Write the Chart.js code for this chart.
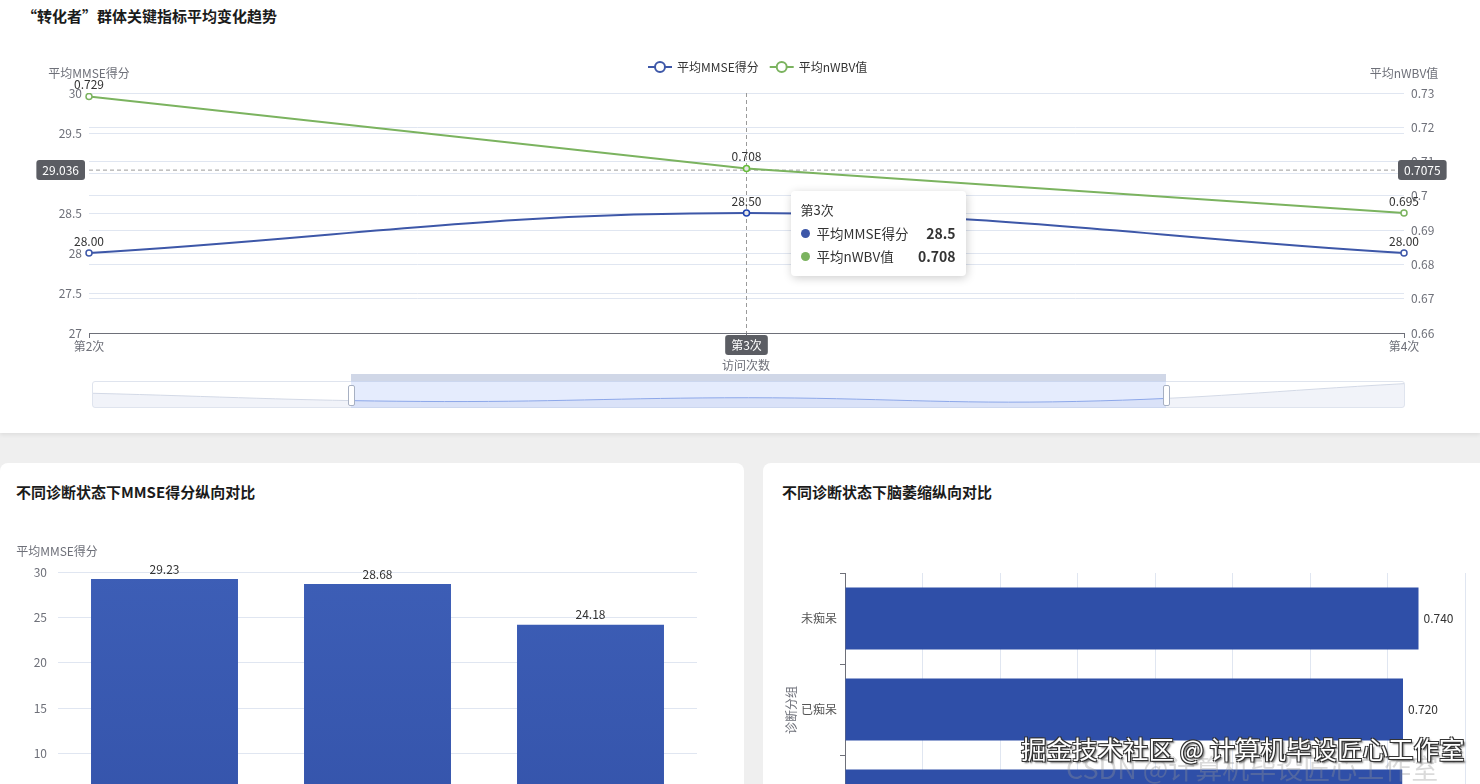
<!DOCTYPE html>
<html lang="zh-CN">
<head>
<meta charset="utf-8">
<title>转化者群体关键指标</title>
<script src="https://cdn.jsdelivr.net/npm/chart.js@4.4.1/dist/chart.umd.min.js"></script>
<style>
    html, body { margin: 0; padding: 0; }
    body {
        width: 1480px; height: 784px; overflow: hidden; position: relative;
        background: #efefef;
        font-family: "Microsoft YaHei", "Noto Sans CJK SC", "Noto Sans", sans-serif;
    }
    .card { position: absolute; background: #fff; }
    .card h3 {
        position: absolute; margin: 0; font-size: 15px; line-height: 20px;
        font-weight: bold; color: #1b1b1b; white-space: nowrap;
    }
    canvas { position: absolute; }
    #topCard { left: 0; top: 0; width: 1480px; height: 433px; box-shadow: 0 2px 4px rgba(0,0,0,0.07); }
    #leftCard { left: 0; top: 463px; width: 744px; height: 420px; border-radius: 8px 8px 0 0; }
    #rightCard { left: 763px; top: 463px; width: 740px; height: 420px; border-radius: 8px 8px 0 0; }

    .zoom-frame { position: absolute; left: 92px; top: 381px; width: 1313px; height: 27px;
        box-sizing: border-box; border: 1px solid #dfe4ee; border-radius: 3px; }
    .zoom-sel { position: absolute; left: 351px; top: 381px; width: 815px; height: 27px;
        background: rgba(135,170,245,0.22); }
    .zoom-bar { position: absolute; left: 351px; top: 374px; width: 815px; height: 7px;
        background: rgba(170,182,212,0.55); }
    .zoom-handle { position: absolute; top: 385px; width: 5px; height: 19px;
        background: #fff; border: 1px solid #a7b0c2; border-radius: 2px; }

    #tip { position: absolute; background: #fff; border-radius: 4px; padding: 9px 10px 8px;
        box-shadow: 1px 2px 10px rgba(0,0,0,0.2); color: #333; font-size: 13px; width: 155px;
        pointer-events: none; z-index: 5; }
    #tip .tt { line-height: 20px; margin-bottom: 2px; }
    #tip .row { display: flex; align-items: center; line-height: 23px; font-size: 13.5px; }
    #tip .dot { width: 9px; height: 9px; border-radius: 50%; margin-right: 7px; }
    #tip .row b { margin-left: auto; font-size: 14px; }

    .mark { position: absolute; white-space: nowrap; pointer-events: none; }
    #mark1 { left: 1021px; top: 729px; font-size: 25.5px; color: #fff; z-index: 4;
        text-shadow: 1px 1px 0 #333, -1px -1px 0 #333, 1px -1px 0 #333, -1px 1px 0 #333, 2px 2px 2px #555; }
    #mark2 { left: 1066px; top: 748px; font-size: 27px; color: rgba(150,150,150,0.35); z-index: 3; }
</style>
</head>
<body>

<div class="card" id="topCard">
    <h3 style="left:22px; top:6px;">“转化者”群体关键指标平均变化趋势</h3>
</div>
<canvas id="trend" width="1480" height="340" style="left:0; top:40px;"></canvas>
<div class="zoom-frame"></div>
<canvas id="shadow" width="1311" height="25" style="left:93px; top:382px;"></canvas>
<div class="zoom-sel"></div>
<div class="zoom-bar"></div>
<div class="zoom-handle" style="left:348px;"></div>
<div class="zoom-handle" style="left:1163px;"></div>
<div id="tip" style="opacity:0"></div>

<div class="card" id="leftCard">
    <h3 style="left:16px; top:19px;">不同诊断状态下MMSE得分纵向对比</h3>
    <canvas id="mmseBar" width="744" height="360" style="left:0; top:67px;"></canvas>
</div>
<div class="card" id="rightCard">
    <h3 style="left:19px; top:19px;">不同诊断状态下脑萎缩纵向对比</h3>
    <canvas id="nwbvBar" width="717" height="360" style="left:0; top:67px;"></canvas>
</div>

<div class="mark" id="mark2">CSDN @计算机毕设匠心工作室</div>
<div class="mark" id="mark1">掘金技术社区 @ 计算机毕设匠心工作室</div>

<script>
// ---- data ----
const visits = ['第2次', '第3次', '第4次'];
const avgMMSE = [28.0, 28.5, 28.0];
const avgNWBV = [0.729, 0.708, 0.695];

// slider data shadow (whole visit range)
const shadowVisits = ['第1次', '第2次', '第3次', '第4次', '第5次'];
const shadowMMSE = [29.1, 28.0, 28.5, 28.0, 30.4];

const groups = ['未痴呆', '转化者', '已痴呆'];
const groupMMSE = [29.23, 28.68, 24.18];

const atrophyGroups = ['未痴呆', '已痴呆', '转化者'];
const groupNWBV = [0.740, 0.720, 0.719];

// hover state shown in the screenshot
const pointerIndex = 1;
const pointerMMSE = 29.036;

const BLUE = '#3d57a8';
const GREEN = '#7bb35f';
const AXIS = '#6e7079';
const GRID = '#e0e6f1';
const FONT = '"Microsoft YaHei", "Noto Sans CJK SC", "Noto Sans", sans-serif';

Chart.defaults.font.family = FONT;
Chart.defaults.font.size = 12;
Chart.defaults.color = AXIS;

const fmt = v => String(+v.toFixed(2));

// value labels drawn from element positions
const valueLabels = {
    id: 'valueLabels',
    afterDatasetsDraw(chart, args, opts) {
        const ctx = chart.ctx;
        ctx.save();
        ctx.font = '12px ' + FONT;
        ctx.fillStyle = '#333';
        chart.data.datasets.forEach((ds, di) => {
            const meta = chart.getDatasetMeta(di);
            meta.data.forEach((el, i) => {
                const text = ds.data[i].toFixed(ds.digits);
                if (opts.side === 'right') {
                    ctx.textAlign = 'left';
                    ctx.textBaseline = 'middle';
                    ctx.fillText(text, el.x + 5, el.y);
                } else {
                    ctx.textAlign = 'center';
                    ctx.textBaseline = 'bottom';
                    ctx.fillText(text, el.x, el.y - (opts.gap || 5));
                }
            });
        });
        ctx.restore();
    }
};

// axis names placed like the reference
const axisNames = {
    id: 'axisNames',
    afterDraw(chart, args, opts) {
        const ctx = chart.ctx;
        const a = chart.chartArea;
        ctx.save();
        ctx.font = '12px ' + FONT;
        ctx.fillStyle = AXIS;
        ctx.textBaseline = 'middle';
        (opts.items || []).forEach(it => {
            const x = it.fromRight ? a.right + it.dx : a.left + it.dx;
            const y = it.fromBottom ? a.bottom + it.dy : a.top + it.dy;
            ctx.save();
            ctx.translate(x, y);
            if (it.rotate) ctx.rotate(it.rotate);
            ctx.textAlign = it.align || 'center';
            ctx.fillText(it.text, 0, 0);
            ctx.restore();
        });
        ctx.restore();
    }
};

// legend with line + hollow circle symbol
const lineLegend = {
    id: 'lineLegend',
    afterDraw(chart, args, opts) {
        const ctx = chart.ctx;
        ctx.save();
        ctx.font = '12px ' + FONT;
        ctx.textBaseline = 'middle';
        let x = opts.x;
        const y = opts.y;
        chart.data.datasets.forEach(ds => {
            ctx.strokeStyle = ds.borderColor;
            ctx.lineWidth = 2;
            ctx.beginPath();
            ctx.moveTo(x, y); ctx.lineTo(x + 24, y);
            ctx.stroke();
            ctx.beginPath();
            ctx.arc(x + 12, y, 5, 0, Math.PI * 2);
            ctx.fillStyle = '#fff';
            ctx.fill();
            ctx.stroke();
            ctx.fillStyle = '#333';
            ctx.textAlign = 'left';
            ctx.fillText(ds.label, x + 29, y);
            x += 29 + ctx.measureText(ds.label).width + 11;
        });
        ctx.restore();
    }
};

// axis pointer (cross) for the hovered visit
function pointerBox(ctx, text, x, y, align) {
    ctx.font = '12px ' + FONT;
    const w = ctx.measureText(text).width + 12;
    const h = 20;
    let left = x;
    if (align === 'right') left = x - w;
    if (align === 'center') left = x - w / 2;
    ctx.fillStyle = '#5b5d63';
    ctx.beginPath();
    ctx.roundRect(left, y - h / 2, w, h, 3);
    ctx.fill();
    ctx.fillStyle = '#fff';
    ctx.textAlign = 'center';
    ctx.textBaseline = 'middle';
    ctx.fillText(text, left + w / 2, y);
}

const crossPointer = {
    id: 'crossPointer',
    beforeDatasetsDraw(chart) {
        const ctx = chart.ctx;
        const a = chart.chartArea;
        const px = chart.scales.x.getPixelForValue(pointerIndex);
        const py = chart.scales.y.getPixelForValue(pointerMMSE);
        ctx.save();
        ctx.strokeStyle = '#9a9a9a';
        ctx.lineWidth = 1;
        ctx.setLineDash([4, 3]);
        ctx.beginPath();
        ctx.moveTo(px, a.top); ctx.lineTo(px, a.bottom);
        ctx.moveTo(a.left, py); ctx.lineTo(a.right, py);
        ctx.stroke();
        ctx.restore();
    },
    afterDraw(chart) {
        const ctx = chart.ctx;
        const a = chart.chartArea;
        const px = chart.scales.x.getPixelForValue(pointerIndex);
        const py = chart.scales.y.getPixelForValue(pointerMMSE);
        const right = chart.scales.y1.getValueForPixel(py);
        ctx.save();
        pointerBox(ctx, pointerMMSE.toFixed(3), a.left - 4, py, 'right');
        pointerBox(ctx, right.toFixed(4), a.right - 6, py, 'left');
        pointerBox(ctx, visits[pointerIndex], px, a.bottom + 12, 'center');
        ctx.restore();
    }
};

function htmlTooltip({ chart, tooltip }) {
    const el = document.getElementById('tip');
    if (tooltip.opacity === 0 || !tooltip.dataPoints) { el.style.opacity = 0; return; }
    const pts = tooltip.dataPoints;
    el.innerHTML = '<div class="tt">' + pts[0].label + '</div>' + pts.map(p =>
        '<div class="row"><span class="dot" style="background:' + p.dataset.borderColor + '"></span>' +
        '<span>' + p.dataset.label + '</span><b>' + p.raw + '</b></div>').join('');
    const py = chart.scales.y.getPixelForValue(pointerMMSE);
    el.style.left = (chart.canvas.offsetLeft + tooltip.caretX + 44) + 'px';
    el.style.top = (chart.canvas.offsetTop + py + 21) + 'px';
    el.style.opacity = 1;
}

// ---- top: trend line chart ----
const trend = new Chart(document.getElementById('trend'), {
    type: 'line',
    data: {
        labels: visits,
        datasets: [{
            label: '平均MMSE得分',
            data: avgMMSE,
            yAxisID: 'y',
            digits: 2,
            borderColor: BLUE,
            backgroundColor: BLUE,
            borderWidth: 2,
            tension: 0.4,
            pointRadius: 3,
            pointHoverRadius: 3,
            pointBackgroundColor: '#fff',
            pointBorderColor: BLUE,
            pointBorderWidth: 1.5,
            pointHoverBorderWidth: 1.5,
        }, {
            label: '平均nWBV值',
            data: avgNWBV,
            yAxisID: 'y1',
            digits: 3,
            borderColor: GREEN,
            backgroundColor: GREEN,
            borderWidth: 2,
            tension: 0,
            pointRadius: 3,
            pointHoverRadius: 3,
            pointBackgroundColor: '#fff',
            pointBorderColor: GREEN,
            pointBorderWidth: 1.5,
            pointHoverBorderWidth: 1.5,
        }],
    },
    options: {
        responsive: false,
        animation: false,
        events: [],
        layout: { padding: { top: 53 } },
        interaction: { mode: 'index', intersect: false },
        plugins: {
            legend: { display: false },
            tooltip: { enabled: false, mode: 'index', intersect: false, external: htmlTooltip },
            valueLabels: { gap: 6 },
            lineLegend: { x: 648, y: 27 },
            axisNames: {
                items: [
                    { text: '平均MMSE得分', dx: 0, dy: -20 },
                    { text: '平均nWBV值', fromRight: true, dx: 0, dy: -20 },
                    { text: '访问次数', dx: 657, fromBottom: true, dy: 32 },
                ],
            },
        },
        scales: {
            x: {
                grid: { drawOnChartArea: false, color: AXIS, tickLength: 5 },
                border: { color: AXIS },
                ticks: { color: AXIS, padding: 1, maxRotation: 0 },
                afterFit: s => { s.height = 47; },
            },
            y: {
                position: 'left',
                min: 27, max: 30,
                ticks: { stepSize: 0.5, padding: 7, color: AXIS, callback: fmt },
                grid: { color: GRID, drawTicks: false },
                border: { display: false },
                afterFit: s => { s.width = 89; },
            },
            y1: {
                position: 'right',
                min: 0.66, max: 0.73,
                ticks: { stepSize: 0.01, padding: 7, color: AXIS, callback: fmt },
                grid: { color: GRID, drawTicks: false },
                border: { display: false },
                afterFit: s => { s.width = 76; },
            },
        },
    },
    plugins: [crossPointer, valueLabels, lineLegend, axisNames],
});

const active = trend.data.datasets.map((_, i) => ({ datasetIndex: i, index: pointerIndex }));
trend.setActiveElements(active);
trend.tooltip.setActiveElements(active, {
    x: trend.scales.x.getPixelForValue(pointerIndex),
    y: trend.scales.y.getPixelForValue(pointerMMSE),
});
trend.update();

// ---- slider data shadow ----
const selFrom = (351 - 93) / 1311;
const selTo = (1166 - 93) / 1311;
new Chart(document.getElementById('shadow'), {
    type: 'line',
    data: {
        labels: shadowVisits,
        datasets: [{
            data: shadowMMSE,
            borderWidth: 1,
            tension: 0.4,
            pointRadius: 0,
            fill: 'start',
            backgroundColor: 'rgba(214,222,238,0.35)',
            borderColor: c => {
                const area = c.chart.chartArea;
                if (!area) return '#ccd3e2';
                const g = c.chart.ctx.createLinearGradient(area.left, 0, area.right, 0);
                g.addColorStop(0, '#d3d9e6');
                g.addColorStop(selFrom, '#d3d9e6');
                g.addColorStop(selFrom, '#8ea7e6');
                g.addColorStop(selTo, '#8ea7e6');
                g.addColorStop(selTo, '#d3d9e6');
                g.addColorStop(1, '#d3d9e6');
                return g;
            },
        }],
    },
    options: {
        responsive: false,
        animation: false,
        events: [],
        plugins: { legend: { display: false }, tooltip: { enabled: false } },
        scales: {
            x: { display: false },
            y: { display: false, min: 27.25, max: 30.625 },
        },
    },
});

// ---- bottom left: MMSE by group ----
const barCtx = document.getElementById('mmseBar').getContext('2d');
const barFill = barCtx.createLinearGradient(0, 42, 0, 314);
barFill.addColorStop(0, '#3d5eb6');
barFill.addColorStop(1, '#3453aa');

new Chart(barCtx, {
    type: 'bar',
    data: {
        labels: groups,
        datasets: [{
            label: '平均MMSE得分',
            data: groupMMSE,
            digits: 2,
            backgroundColor: barFill,
            categoryPercentage: 1,
            barPercentage: 0.69,
        }],
    },
    options: {
        responsive: false,
        animation: false,
        events: [],
        layout: { padding: { top: 42, right: 47 } },
        plugins: {
            legend: { display: false },
            tooltip: { enabled: false },
            valueLabels: { gap: 4 },
            axisNames: { items: [{ text: '平均MMSE得分', dx: -1, dy: -21 }] },
        },
        scales: {
            x: {
                grid: { display: false },
                border: { color: AXIS },
                ticks: { color: AXIS },
                afterFit: s => { s.height = 46; },
            },
            y: {
                min: 0, max: 30,
                ticks: { stepSize: 5, padding: 11, color: AXIS },
                grid: { color: GRID, drawTicks: false },
                border: { display: false },
                afterFit: s => { s.width = 58; },
            },
        },
    },
    plugins: [valueLabels, axisNames],
});

// ---- bottom right: nWBV by group ----
new Chart(document.getElementById('nwbvBar'), {
    type: 'bar',
    data: {
        labels: atrophyGroups,
        datasets: [{
            label: '平均nWBV值',
            data: groupNWBV,
            digits: 3,
            backgroundColor: '#2f4fa8',
            categoryPercentage: 1,
            barPercentage: 0.68,
        }],
    },
    options: {
        indexAxis: 'y',
        responsive: false,
        animation: false,
        events: [],
        layout: { padding: { top: 43, right: 15 } },
        plugins: {
            legend: { display: false },
            tooltip: { enabled: false },
            valueLabels: { side: 'right' },
            axisNames: { items: [{ text: '诊断分组', dx: -54, dy: 137, rotate: -Math.PI / 2 }] },
        },
        scales: {
            x: {
                min: 0, max: 0.8,
                ticks: { stepSize: 0.1, color: AXIS, callback: fmt },
                grid: { color: GRID, drawTicks: false },
                border: { display: false },
                afterFit: s => { s.height = 44; },
            },
            y: {
                grid: { drawOnChartArea: false, color: AXIS, tickLength: 5 },
                border: { color: AXIS },
                ticks: { color: '#555', padding: 3 },
                afterFit: s => { s.width = 82; },
            },
        },
    },
    plugins: [valueLabels, axisNames],
});
</script>
</body>
</html>
